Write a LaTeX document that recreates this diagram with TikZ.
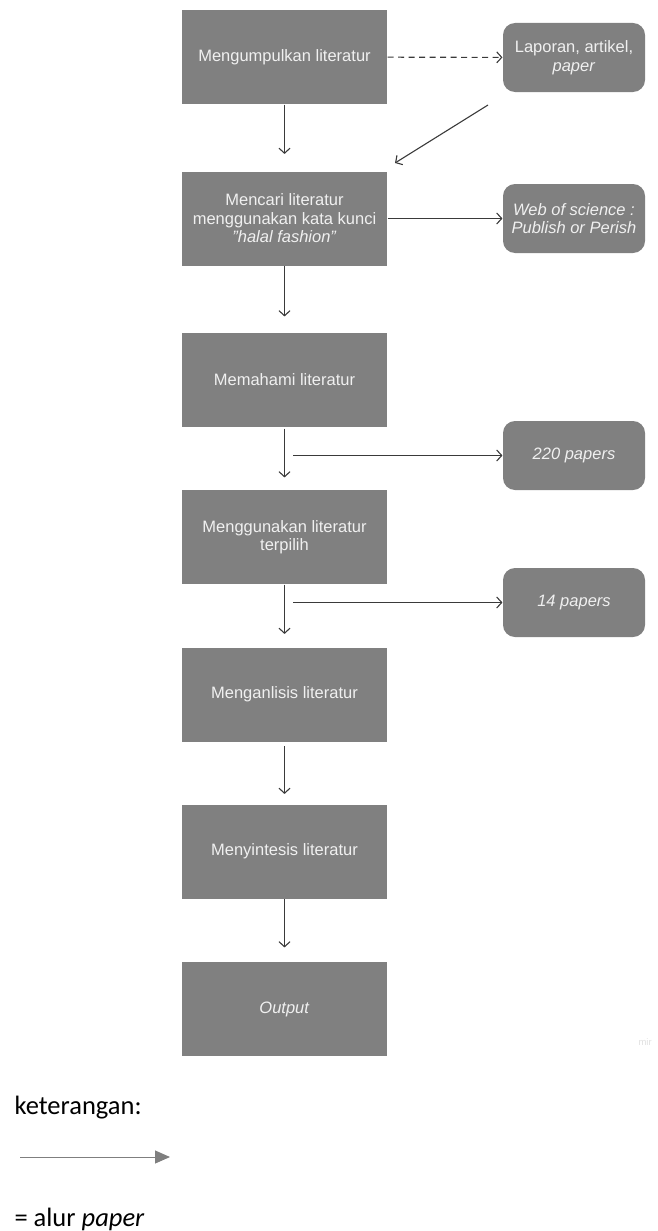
\documentclass[tikz,border=0pt]{standalone}
\usepackage{fontspec}
\setmainfont{Liberation Sans}
\newfontfamily\notefont{Carlito}
\usepackage{xcolor}
\usetikzlibrary{arrows.meta}

\definecolor{boxgray}{HTML}{808080}
\definecolor{linegray}{HTML}{3A3A3A}
\definecolor{keygray}{HTML}{7F7F7F}

\begin{document}
\begin{tikzpicture}[x=1pt,y=-1pt,line width=1.1pt,
  >={Straight Barb[length=5pt,width=11pt]},
  stepbox/.style={fill=boxgray,text=white!94!black,align=center,minimum width=205pt,minimum height=94pt,inner sep=0pt,font=\fontsize{16.5}{18.5}\selectfont},
  sourcebox/.style={stepbox,minimum width=142pt,minimum height=69pt,rounded corners=12pt},
  flow/.style={->,draw=linegray,shorten >=14pt},
  keytext/.style={anchor=west,inner sep=0pt,font=\notefont\fontsize{26.5}{30}\selectfont}]

\useasboundingbox (0,0) rectangle (657,1231);

% 1
\node[stepbox] (StepA) at (284.5,57) {Mengumpulkan literatur};
\node[stepbox] (StepB) at (284.5,218.5) {Mencari literatur\\menggunakan kata kunci\\\textit{"halal fashion"}};
\node[stepbox] (StepC) at (284.5,380) {Memahami literatur};
\node[stepbox] (StepD) at (284.5,537) {Menggunakan literatur\\terpilih};
\node[stepbox] (StepE) at (284.5,694.5) {Menganlisis literatur};
\node[stepbox] (StepF) at (284.5,851.5) {Menyintesis literatur};
\node[stepbox] (StepG) at (284.5,1009) {\textit{Output}};

\draw[flow,shorten >=17pt] (StepA) to (StepB);
\draw[flow,shorten >=16pt] (StepB) to (StepC);
\draw[flow,shorten <=1pt,shorten >=12pt] (StepC) to (StepD);
\draw[flow,shorten >=13pt] (StepD) to (StepE);
\draw[flow,shorten <=4pt,shorten >=10pt] (StepE) to (StepF);
\draw[flow] (StepF) to (StepG);

% 2
\node[sourcebox] (SourceA) at (574,57.5) {Laporan, artikel,\\\textit{paper}};
\node[sourcebox] (SourceB) at (574,218.5) {\textit{Web of science :}\\\textit{Publish or Perish}};
\node[sourcebox] (SourceC) at (574,455.5) {\textit{220 papers}};
\node[sourcebox] (SourceD) at (574,602.5) {\textit{14 papers}};

\coordinate (BackStart) at (488,105);
\coordinate (BackEnd) at (395,163);
\coordinate (TapC) at (293,455.5);
\coordinate (TapD) at (293,602.5);

\draw[flow,shorten >=0pt,dash pattern=on 6pt off 4.5pt] (StepA) to (SourceA);
\draw[flow,shorten >=0pt] (BackStart) to (BackEnd);
\draw[flow,shorten >=0pt] (StepB) to (SourceB);
\draw[flow,shorten >=0pt] (TapC) to (SourceC);
\draw[flow,shorten >=0pt] (TapD) to (SourceD);

\node[text=black!12,font=\fontsize{9.5}{10}\selectfont,anchor=west,inner sep=0pt] (Mark) at (638,1042) {mir};

% legend
\node[keytext] (KeyTitle) at (14,1108) {keterangan:};
\coordinate (KeyStart) at (20,1157);
\coordinate (KeyEnd) at (170,1157);
\draw[draw=keygray,line width=1pt,-{Triangle[length=15pt,width=13pt]}] (KeyStart) -- (KeyEnd);
\node[keytext] (KeyText) at (14,1219) {= alur \textit{paper}};

\end{tikzpicture}
\end{document}
